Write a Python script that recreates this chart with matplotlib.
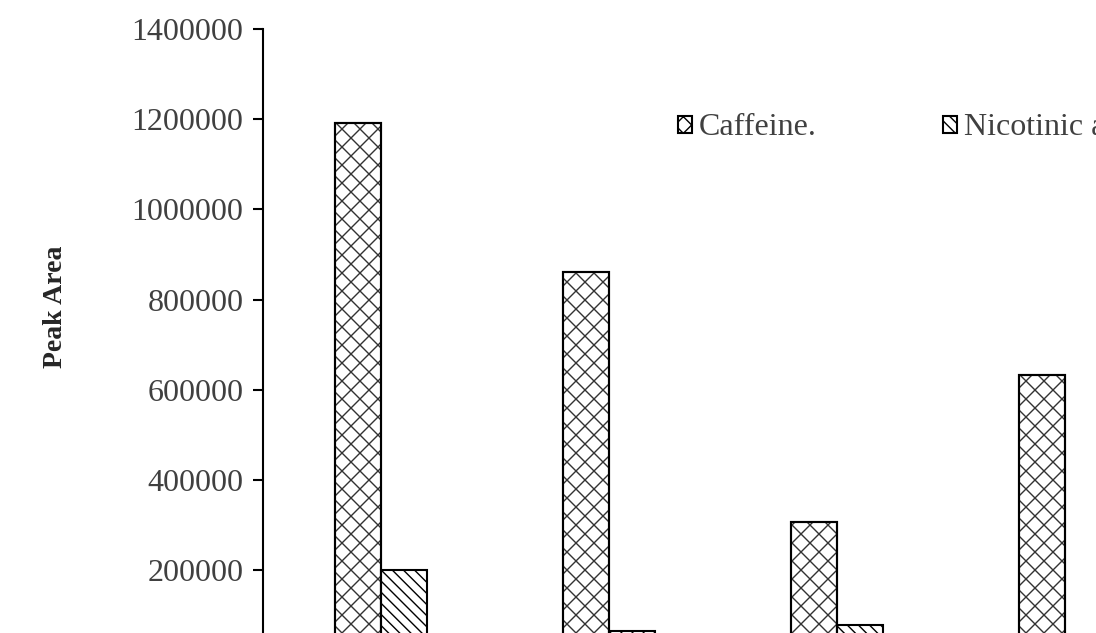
import matplotlib
matplotlib.use("Agg")
import matplotlib.pyplot as plt
from matplotlib.collections import LineCollection
from matplotlib.patches import Patch
from matplotlib.transforms import IdentityTransform
import numpy as np

# Peak areas per sample
samples = ["Sample 1", "Sample 2", "Sample 3", "Sample 4"]
caffeine = [1191000, 862000, 307000, 633000]
nicotinic_acid = [200000, 65000, 77000, 40000]
yticks = [200000, 400000, 600000, 800000, 1000000, 1200000, 1400000]

plt.rcParams["font.family"] = ["Liberation Serif", "DejaVu Serif"]
plt.rcParams["hatch.linewidth"] = 1.0
plt.rcParams["hatch.color"] = "#333333"

W, H = 1096, 633
fig = plt.figure(figsize=(W / 100, H / 100), dpi=100)
# plot area runs past the right and bottom edges of the canvas
ax = fig.add_axes([263 / W, 1 - 660.2 / H, 4 * 228 / W, (660.2 - 29) / H])

x = np.arange(len(samples))
bw = 0.2018
caf_bars = ax.bar(x - bw / 2, caffeine, bw, facecolor="white",
                  edgecolor="black", linewidth=1.5, zorder=2)
nic_bars = ax.bar(x + bw / 2, nicotinic_acid, bw, facecolor="white",
                  edgecolor="black", linewidth=1.5, hatch="\\\\\\", zorder=2)

ax.set_xlim(-0.5175, len(samples) - 0.5175)
ax.set_ylim(0, 1400000)
ax.set_yticks(yticks)
ax.set_yticklabels([str(v) for v in yticks])
ax.set_xticks([])

for s in ["top", "right"]:
    ax.spines[s].set_visible(False)
ax.spines["left"].set_linewidth(1.5)
ax.spines["bottom"].set_linewidth(1.5)
ax.tick_params(axis="y", direction="out", length=7, width=1.5, pad=7,
               labelsize=23, labelcolor="#404040")

fig.text(55 / W, 1 - 307 / H, "Peak Area", rotation=90, fontsize=20,
         fontweight="bold", ha="center", va="center", color="#262626")


def diamond_segments(bb, step):
    """Diagonal line pairs (slopes +1 and -1) cut to the pixel box bb."""
    x0, y0, x1, y1 = bb.x0, bb.y0, bb.x1, bb.y1
    segs = []
    # y = x - c
    for c in np.arange(np.floor((x0 - y1) / step) * step, x1 - y0 + step, step):
        a, b = max(x0, y0 + c), min(x1, y1 + c)
        if b > a:
            segs.append([(a, a - c), (b, b - c)])
    # y = -x + c
    for c in np.arange(np.floor((x0 + y0) / step) * step, x1 + y1 + step, step):
        a, b = max(x0, c - y1), min(x1, c - y0)
        if b > a:
            segs.append([(a, c - a), (b, c - b)])
    return segs


# diamond cross-hatching for caffeine bars, drawn in pixel space
fig.canvas.draw()
renderer = fig.canvas.get_renderer()
for bar in caf_bars:
    bb = bar.get_window_extent(renderer)
    lc = LineCollection(diamond_segments(bb, 18.0), colors="#333333",
                        linewidths=1.0, transform=IdentityTransform(),
                        zorder=2.5)
    ax.add_collection(lc, autolim=False)
    # outline above the hatching
    ax.add_patch(plt.Rectangle(bar.get_xy(), bar.get_width(), bar.get_height(),
                               fill=False, edgecolor="black", linewidth=1.5,
                               zorder=3))

handles = [
    Patch(facecolor="white", edgecolor="black", linewidth=1.5, hatch="xx",
          label="Caffeine."),
    Patch(facecolor="white", edgecolor="black", linewidth=1.5, hatch="\\\\\\",
          label="Nicotinic acid"),
]
leg = ax.legend(handles=handles, loc="center left",
                bbox_to_anchor=(662 / W, 1 - 128 / H),
                bbox_transform=fig.transFigure, ncol=2, frameon=False,
                borderpad=0, handlelength=0.45, handleheight=0.45,
                handletextpad=0.2, columnspacing=3.95, fontsize=23)
for t in leg.get_texts():
    t.set_color("#404040")

fig.savefig("out.png", dpi=100)
